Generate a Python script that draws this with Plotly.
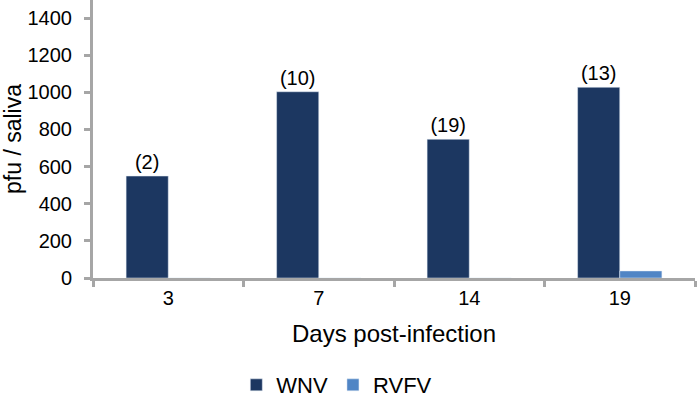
import plotly.graph_objects as go

days = ["3", "7", "14", "19"]
wnv = [549, 1003, 747, 1027]
rvfv = [0, 0, 0, 38]
wnv_labels = ["(2)", "(10)", "(19)", "(13)"]
y_ticks = [0, 200, 400, 600, 800, 1000, 1200, 1400]

FONT = "Liberation Sans, Arial, sans-serif"
AX = "#A6A6A6"

fig = go.Figure()
fig.add_trace(go.Bar(
    x=days, y=wnv, name="WNV", marker_color="#1C3761",
    text=wnv_labels, textposition="outside", cliponaxis=False,
    textfont=dict(size=20, color="#000000", family=FONT),
))
fig.add_trace(go.Bar(
    x=days, y=rvfv, name="RVFV", marker_color="#5085C5",
))

fig.update_layout(
    width=698, height=403,
    margin=dict(l=93, r=3, t=0, b=125, autoexpand=False),
    paper_bgcolor="white", plot_bgcolor="white",
    barmode="group", bargap=0.44, bargroupgap=0,
    font=dict(family=FONT, size=20, color="#000000"),
    showlegend=True,
    legend=dict(orientation="h", x=0.405, xanchor="center", xref="paper",
                y=-0.385, yanchor="middle", font=dict(size=22),
                itemwidth=30, traceorder="normal"),
)
fig.update_xaxes(
    type="category", showline=True, linecolor=AX, linewidth=3,
    ticks="outside", tickson="boundaries", ticklen=6, tickcolor=AX, tickwidth=3,
    showgrid=False, tickfont=dict(size=20), automargin=False,
    title=dict(text="Days post-infection", font=dict(size=24), standoff=18),
)
fig.update_yaxes(
    range=[0, 1497], tickvals=y_ticks, showline=True, linecolor=AX, linewidth=3,
    ticks="outside", ticklen=6, tickcolor=AX, tickwidth=3, ticklabelstandoff=8,
    showgrid=False, zeroline=False, tickfont=dict(size=20), automargin=False,
    title=dict(text="pfu / saliva", font=dict(size=23), standoff=10),
)

fig.write_html("out.html", config={"displayModeBar": False},
               post_script="document.body.style.margin='0';document.body.style.overflow='hidden';")
